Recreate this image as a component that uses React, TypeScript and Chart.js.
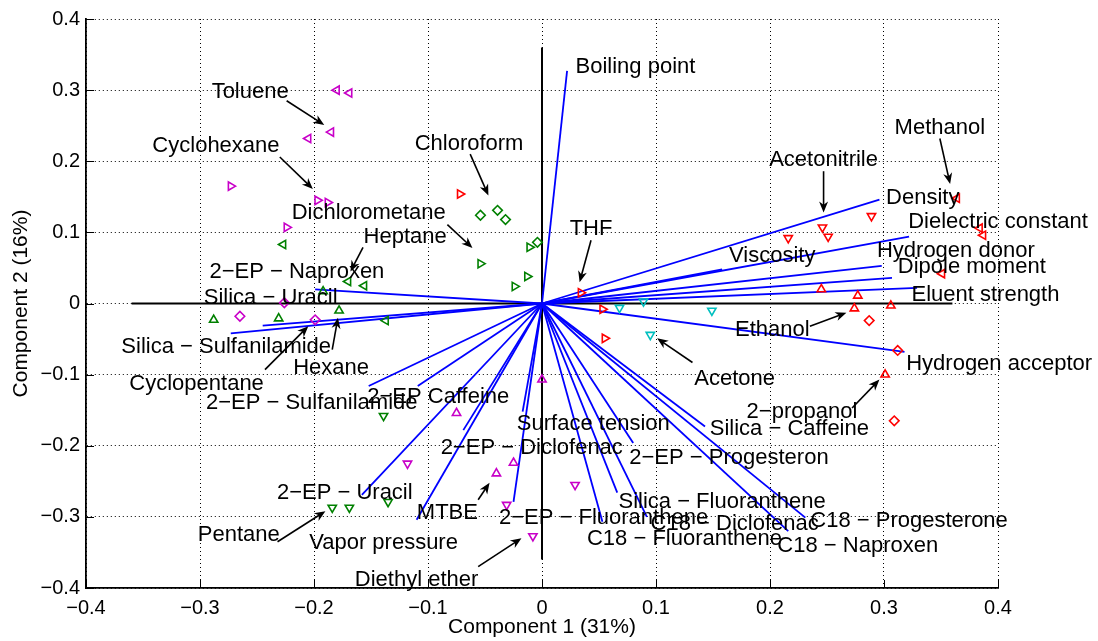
import React, { useEffect, useRef } from 'react';
import { Chart, registerables } from 'chart.js';

Chart.register(...registerables);

const FONT = '"Liberation Sans", Arial, Helvetica, sans-serif';

// Axis tick values
const TICKS = [-0.4, -0.3, -0.2, -0.1, 0, 0.1, 0.2, 0.3, 0.4];

// Loading vectors (end points), drawn from the origin
const LOAD_NAMES = [
  'Boiling point', 'Density', 'Dielectric constant', 'Hydrogen donor', 'Dipole moment',
  'Eluent strength', 'Viscosity', 'Hydrogen acceptor', 'Vapor pressure', 'Surface tension',
  '2-EP - Naproxen', 'Silica - Uracil', 'Silica - Sulfanilamide', '2-EP - Sulfanilamide',
  '2-EP Caffeine', '2-EP - Uracil', '2-EP - Diclofenac', '2-EP - Fluoranthene',
  '2-EP - Progesteron', 'Silica - Caffeine', 'Silica - Fluoranthene', 'C18 - Diclofenac',
  'C18 - Fluoranthene', 'C18 - Progesterone', 'C18 - Naproxen',
];
const LOAD_X = [
  0.022, 0.296, 0.322, 0.298, 0.307,
  0.329, 0.158, 0.318, -0.110, -0.017,
  -0.199, -0.245, -0.273, -0.152,
  -0.109, -0.158, -0.069, -0.025,
  0.080, 0.143, 0.066, 0.092,
  0.053, 0.231, 0.216,
];
const LOAD_Y = [
  0.327, 0.146, 0.094, 0.053, 0.036,
  0.022, 0.048, -0.068, -0.304, -0.152,
  0.020, -0.031, -0.042, -0.116,
  -0.116, -0.269, -0.178, -0.279,
  -0.196, -0.173, -0.266, -0.300,
  -0.307, -0.301, -0.320,
];

// Biplot axis half-length
const AXIS_HALF = 0.36;

// Score markers: [x, y]
const RED_RIGHT = [[0.034, 0.015], [0.053, -0.008], [0.055, -0.049], [-0.072, 0.154]];
const RED_LEFT = [[0.364, 0.148], [0.384, 0.106], [0.387, 0.096], [0.351, 0.042]];
const RED_DOWN = [[0.289, 0.123], [0.246, 0.107], [0.251, 0.094], [0.216, 0.092]];
const RED_UP = [[0.245, 0.020], [0.277, 0.011], [0.274, -0.007], [0.306, -0.003], [0.301, -0.100]];
const RED_DIAMOND = [[0.287, -0.024], [0.312, -0.066], [0.309, -0.165]];
const CYAN_DOWN = [[0.068, -0.006], [0.089, 0.003], [0.149, -0.010], [0.095, -0.044]];
const GREEN_DIAMOND = [[-0.054, 0.124], [-0.039, 0.131], [-0.032, 0.118], [-0.004, 0.086]];
const GREEN_RIGHT = [[-0.011, 0.079], [-0.054, 0.056], [-0.013, 0.038], [-0.024, 0.024]];
const GREEN_LEFT = [[-0.170, 0.031], [-0.156, 0.025], [-0.227, 0.083], [-0.137, -0.024]];
const GREEN_UP = [[-0.192, 0.017], [-0.288, -0.023], [-0.231, -0.021], [-0.178, -0.010]];
const GREEN_DOWN = [[-0.139, -0.158], [-0.184, -0.287], [-0.169, -0.287], [-0.135, -0.279]];
const MAG_LEFT = [[-0.180, 0.300], [-0.169, 0.296], [-0.185, 0.241], [-0.205, 0.232]];
const MAG_RIGHT = [[-0.273, 0.165], [-0.197, 0.145], [-0.188, 0.142], [-0.224, 0.107]];
const MAG_DIAMOND = [[-0.265, -0.018], [-0.226, 0.001], [-0.199, -0.023]];
const MAG_UP = [[0.000, -0.107], [-0.075, -0.154], [-0.025, -0.224], [-0.040, -0.239]];
const MAG_DOWN = [[-0.118, -0.225], [-0.031, -0.283], [-0.008, -0.327], [0.029, -0.255]];

// Text labels (centre positions in data units)
const TEXT_LABELS = [
  'Toluene', 'Cyclohexane', 'Chloroform', 'Dichlorometane', 'Heptane',
  '2\u2212EP \u2212 Naproxen', 'Silica \u2212 Uracil', 'Silica \u2212 Sulfanilamide', 'Hexane', 'Cyclopentane',
  '2\u2212EP \u2212 Sulfanilamide', '2\u2212EP Caffeine', '2\u2212EP \u2212 Uracil', 'Pentane', 'Vapor pressure',
  'MTBE', 'Diethyl ether', '2\u2212EP \u2212 Diclofenac', 'Surface tension', '2\u2212EP \u2212 Fluoranthene',
  'C18 \u2212 Fluoranthene', 'Silica \u2212 Fluoranthene', 'C18 \u2212 Diclofenac', 'C18 \u2212 Progesterone', 'C18 \u2212 Naproxen',
  '2\u2212EP \u2212 Progesteron', 'Silica \u2212 Caffeine', '2\u2212propanol', 'Acetone', 'Ethanol',
  'Hydrogen acceptor', 'Eluent strength', 'Dipole moment', 'Hydrogen donor', 'Dielectric constant',
  'Density', 'Methanol', 'Acetonitrile', 'Viscosity', 'THF', 'Boiling point',
];
const TEXT_X = [
  -0.256, -0.286, -0.064, -0.152, -0.120,
  -0.215, -0.238, -0.277, -0.185, -0.303,
  -0.202, -0.091, -0.173, -0.266, -0.139,
  -0.083, -0.110, -0.009, 0.045, 0.054,
  0.125, 0.158, 0.169, 0.322, 0.277,
  0.164, 0.217, 0.228, 0.169, 0.202,
  0.401, 0.389, 0.377, 0.363, 0.400,
  0.334, 0.349, 0.247, 0.202, 0.043, 0.082,
];
const TEXT_Y = [
  0.298, 0.221, 0.225, 0.128, 0.093,
  0.045, 0.008, -0.061, -0.091, -0.113,
  -0.140, -0.131, -0.266, -0.326, -0.336,
  -0.295, -0.388, -0.203, -0.170, -0.302,
  -0.331, -0.279, -0.310, -0.306, -0.341,
  -0.217, -0.176, -0.152, -0.106, -0.037,
  -0.085, 0.012, 0.052, 0.074, 0.115,
  0.149, 0.247, 0.202, 0.067, 0.105, 0.332,
];

// Annotation arrows: from (X1, Y1) to head at (X2, Y2), data units
const ARROW_X1 = [-0.224, -0.230, -0.063, -0.083, -0.157, -0.184, -0.243, -0.232, -0.056, -0.056, 0.043, 0.247, 0.349, 0.235, 0.132, 0.272];
const ARROW_Y1 = [0.285, 0.206, 0.210, 0.111, 0.079, -0.065, -0.093, -0.335, -0.276, -0.370, 0.089, 0.186, 0.232, -0.032, -0.083, -0.147];
const ARROW_X2 = [-0.191, -0.201, -0.047, -0.061, -0.168, -0.179, -0.205, -0.190, -0.046, -0.018, 0.033, 0.247, 0.358, 0.267, 0.101, 0.296];
const ARROW_Y2 = [0.251, 0.161, 0.152, 0.078, 0.045, -0.020, -0.032, -0.292, -0.252, -0.330, 0.030, 0.128, 0.168, -0.013, -0.049, -0.107];

const RED = '#ff0000';
const GREEN = '#008000';
const CYAN = '#00bfbf';
const MAGENTA = '#c800c8';
const BLUE = '#0000ff';

const fmtTick = (v: number) => {
  if (Math.abs(v) < 1e-9) return '0';
  return (v < 0 ? '\u2212' : '') + Math.abs(v).toFixed(1);
};

function markerSet(points: number[][], color: string, style: string, rotation: number) {
  return {
    type: 'scatter' as const,
    data: points.map(([x, y]) => ({ x, y })),
    pointStyle: style,
    rotation,
    pointRotation: rotation,
    radius: 4.8,
    pointRadius: 4.8,
    pointHoverRadius: 4.8,
    borderColor: color,
    backgroundColor: 'rgba(0,0,0,0)',
    pointBorderWidth: 1.6,
    borderWidth: 1.6,
    showLine: false,
    order: 0,
  };
}

function lineSet(pts: { x: number; y: number }[], color: string, width: number, order: number) {
  return {
    type: 'scatter' as const,
    data: pts,
    showLine: true,
    borderColor: color,
    backgroundColor: color,
    borderWidth: width,
    pointRadius: 0,
    pointHoverRadius: 0,
    order,
  };
}

function drawArrow(ctx: CanvasRenderingContext2D, x1: number, y1: number, x2: number, y2: number) {
  const ang = Math.atan2(y2 - y1, x2 - x1);
  const c = Math.cos(ang);
  const s = Math.sin(ang);
  const L = 11;
  const W = 4.5;
  ctx.beginPath();
  ctx.moveTo(x1, y1);
  ctx.lineTo(x2 - 0.6 * L * c, y2 - 0.6 * L * s);
  ctx.stroke();
  const bx = x2 - L * c;
  const by = y2 - L * s;
  ctx.beginPath();
  ctx.moveTo(x2, y2);
  ctx.lineTo(bx - W * s, by + W * c);
  ctx.lineTo(x2 - 0.7 * L * c, y2 - 0.7 * L * s);
  ctx.lineTo(bx + W * s, by - W * c);
  ctx.closePath();
  ctx.fill();
}

const overlayPlugin = {
  id: 'overlay',
  afterDatasetsDraw(chart: any) {
    const { ctx, chartArea } = chart;
    const xs = chart.scales.x;
    const ys = chart.scales.y;
    ctx.save();
    // inward tick marks
    ctx.strokeStyle = '#000';
    ctx.lineWidth = 1;
    TICKS.forEach((t) => {
      const px = Math.round(xs.getPixelForValue(t)) + 0.5;
      ctx.beginPath();
      ctx.moveTo(px, chartArea.bottom);
      ctx.lineTo(px, chartArea.bottom - 8);
      ctx.stroke();
      const py = Math.round(ys.getPixelForValue(t)) + 0.5;
      ctx.beginPath();
      ctx.moveTo(chartArea.left, py);
      ctx.lineTo(chartArea.left + 8, py);
      ctx.stroke();
    });
    // arrows
    ctx.fillStyle = '#000';
    ctx.strokeStyle = '#000';
    ctx.lineWidth = 1.6;
    ARROW_X1.forEach((_, i) => {
      drawArrow(
        ctx,
        xs.getPixelForValue(ARROW_X1[i]),
        ys.getPixelForValue(ARROW_Y1[i]),
        xs.getPixelForValue(ARROW_X2[i]),
        ys.getPixelForValue(ARROW_Y2[i]),
      );
    });
    // text labels
    ctx.font = `22px ${FONT}`;
    ctx.textAlign = 'center';
    ctx.textBaseline = 'middle';
    ctx.fillStyle = '#000';
    TEXT_LABELS.forEach((t, i) => {
      ctx.fillText(t, xs.getPixelForValue(TEXT_X[i]), ys.getPixelForValue(TEXT_Y[i]));
    });
    // axis titles
    ctx.font = `21px ${FONT}`;
    ctx.fillText('Component 1 (31%)', (chartArea.left + chartArea.right) / 2, 627);
    ctx.translate(21, (chartArea.top + chartArea.bottom) / 2);
    ctx.rotate(-Math.PI / 2);
    ctx.fillText('Component 2 (16%)', 0, 0);
    ctx.restore();
  },
};

export default function App() {
  const ref = useRef<HTMLCanvasElement>(null);
  useEffect(() => {
    const origin = { x: 0, y: 0 };
    const datasets: any[] = [
      markerSet(RED_RIGHT, RED, 'triangle', 90),
      markerSet(RED_LEFT, RED, 'triangle', 270),
      markerSet(RED_DOWN, RED, 'triangle', 180),
      markerSet(RED_UP, RED, 'triangle', 0),
      markerSet(RED_DIAMOND, RED, 'rectRot', 0),
      markerSet(CYAN_DOWN, CYAN, 'triangle', 180),
      markerSet(GREEN_DIAMOND, GREEN, 'rectRot', 0),
      markerSet(GREEN_RIGHT, GREEN, 'triangle', 90),
      markerSet(GREEN_LEFT, GREEN, 'triangle', 270),
      markerSet(GREEN_UP, GREEN, 'triangle', 0),
      markerSet(GREEN_DOWN, GREEN, 'triangle', 180),
      markerSet(MAG_LEFT, MAGENTA, 'triangle', 270),
      markerSet(MAG_RIGHT, MAGENTA, 'triangle', 90),
      markerSet(MAG_DIAMOND, MAGENTA, 'rectRot', 0),
      markerSet(MAG_UP, MAGENTA, 'triangle', 0),
      markerSet(MAG_DOWN, MAGENTA, 'triangle', 180),
    ];
    LOAD_X.forEach((lx, i) => {
      datasets.push(lineSet([origin, { x: lx, y: LOAD_Y[i] }], BLUE, 1.8, 1));
    });
    datasets.push(lineSet([{ x: -AXIS_HALF, y: 0 }, { x: AXIS_HALF, y: 0 }], '#000', 2, 2));
    datasets.push(lineSet([{ x: 0, y: -AXIS_HALF }, { x: 0, y: AXIS_HALF }], '#000', 2, 2));

    const tickFont = { family: FONT, size: 20 };
    const chart = new Chart(ref.current as HTMLCanvasElement, {
      type: 'scatter',
      data: { datasets },
      plugins: [overlayPlugin],
      options: {
        responsive: false,
        animation: false,
        events: [],
        layout: { padding: { top: 19, right: 100, left: 0, bottom: 0 } },
        plugins: { legend: { display: false }, tooltip: { enabled: false } },
        scales: {
          x: {
            type: 'linear',
            min: -0.4,
            max: 0.4,
            afterFit: (s: any) => { s.height = 53; },
            afterBuildTicks: (s: any) => { s.ticks = TICKS.map((v) => ({ value: v })); },
            ticks: { callback: (v: any) => fmtTick(Number(v)), font: tickFont, color: '#000', padding: 8, maxRotation: 0, autoSkip: false },
            grid: { color: '#000', lineWidth: 1, drawTicks: false },
            border: { display: true, color: '#000', width: 1.8, dash: [1, 3] },
          },
          y: {
            type: 'linear',
            min: -0.4,
            max: 0.4,
            afterFit: (s: any) => { s.width = 86; },
            afterBuildTicks: (s: any) => { s.ticks = TICKS.map((v) => ({ value: v })); },
            ticks: { callback: (v: any) => fmtTick(Number(v)), font: tickFont, color: '#000', padding: 6, autoSkip: false },
            grid: { color: '#000', lineWidth: 1, drawTicks: false },
            border: { display: true, color: '#000', width: 1.8, dash: [1, 3] },
          },
        },
      } as any,
    });
    return () => chart.destroy();
  }, []);
  return (
    <div style={{ position: 'absolute', left: 0, top: 0, width: 1098, height: 641, background: '#fff' }}>
      <canvas ref={ref} width={1098} height={641} style={{ width: 1098, height: 641, display: 'block' }} />
    </div>
  );
}
